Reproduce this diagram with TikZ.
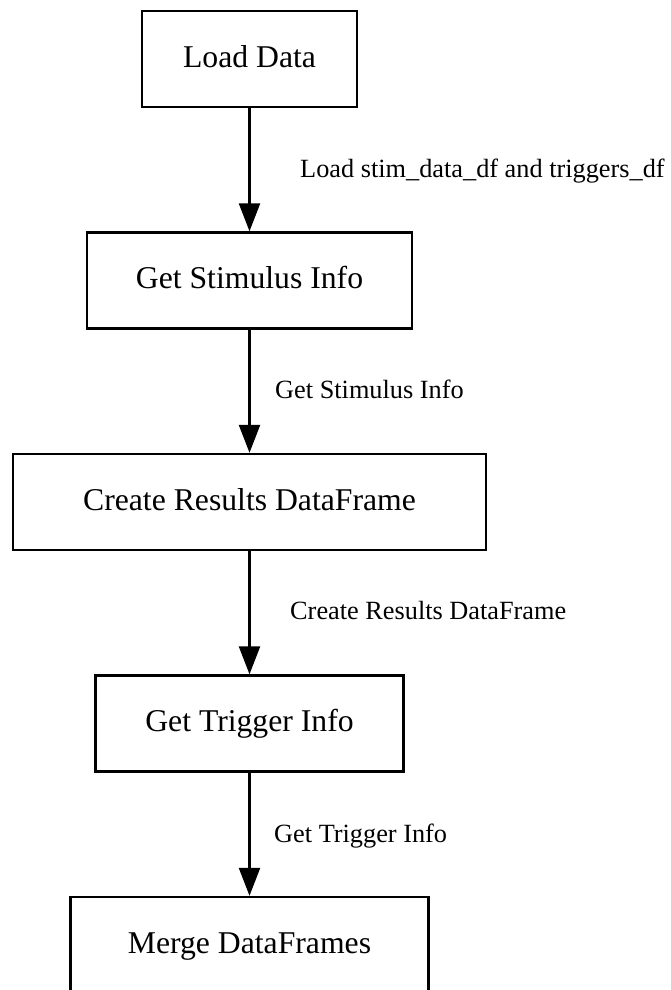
\documentclass[tikz,border=0pt]{standalone}
\usepackage{fontspec}
\setmainfont{Liberation Serif}
\usetikzlibrary{arrows.meta}

\tikzset{
  stepbox/.style={draw,line width=2.4pt,inner sep=0pt,minimum height=96pt,
    text height=23pt,text depth=7pt,font=\fontsize{31.7}{38}\selectfont},
  flow/.style={line width=2.4pt,-{Triangle[length=28pt,width=21pt]}},
  flowlabel/.style={anchor=base west,inner sep=0pt,
    font=\fontsize{26.3}{31}\selectfont}
}

\begin{document}
\begin{tikzpicture}[x=1pt,y=-1pt]
    % Page frame
    \useasboundingbox (0,0) rectangle (671,990);

    % Steps
    \node (load) at (249.5,59) [stepbox,minimum width=215pt] {Load Data};
    \node (stim) at (249.5,280.5) [stepbox,minimum width=325pt] {Get Stimulus Info};
    \node (results) at (249.5,502) [stepbox,minimum width=473pt] {Create Results DataFrame};
    \node (trigger) at (249.5,723.5) [stepbox,minimum width=308pt] {Get Trigger Info};
    \node (merge) at (249.5,945) [stepbox,minimum width=358pt] {Merge DataFrames};

    % Connectors
    \draw [flow] (load) to (stim);
    \draw [flow] (stim) to (results);
    \draw [flow] (results) to (trigger);
    \draw [flow] (trigger) to (merge);

    % Connector labels
    \node (loadlabel) at (300,177) [flowlabel] {Load stim\_data\_df and triggers\_df};
    \node (stimlabel) at (275,398) [flowlabel] {Get Stimulus Info};
    \node (resultslabel) at (290,619) [flowlabel] {Create Results DataFrame};
    \node (triggerlabel) at (274,842) [flowlabel] {Get Trigger Info};
\end{tikzpicture}
\end{document}
